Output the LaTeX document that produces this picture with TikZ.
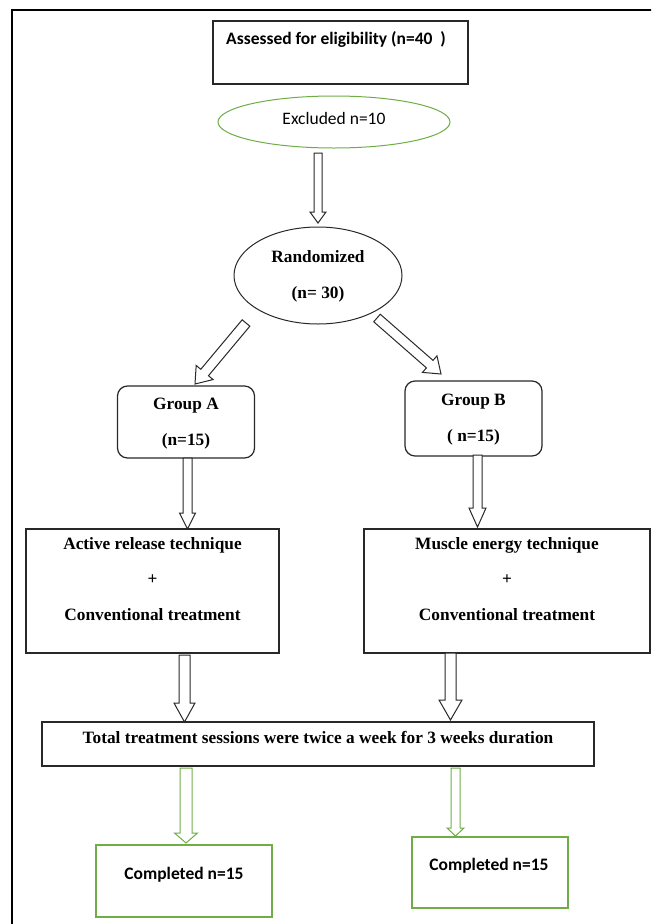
\documentclass[tikz,border=0pt]{standalone}
\usepackage{fontspec}
\setmainfont{Liberation Serif}
\newfontfamily\calibri{Carlito}
\usetikzlibrary{calc,shapes.geometric}
\definecolor{officegreen}{RGB}{112,173,71}
\definecolor{lineblk}{RGB}{40,40,40}
\newcommand\hollowarrow[6][]{%
  \path ($(#3)!#6pt!(#2)$) coordinate (hbase);
  \draw[blockarrow,#1] ($(#2)!#4pt!90:(#3)$) -- ($(hbase)!#4pt!90:(#3)$) -- ($(hbase)!#5pt!90:(#3)$) -- (#3) -- ($(hbase)!#5pt!-90:(#3)$) -- ($(hbase)!#4pt!-90:(#3)$) -- ($(#2)!#4pt!-90:(#3)$) -- cycle;}
\begin{document}
\begin{tikzpicture}[x=1pt,y=1pt,
  box/.style={draw=lineblk, line width=1.2pt, rectangle, inner sep=0pt},
  gbox/.style={draw=officegreen, line width=1.2pt, rectangle, inner sep=0pt},
  rbox/.style={box, rounded corners=10pt},
  oval/.style={ellipse, draw=lineblk, line width=1pt, inner sep=0pt},
  goval/.style={ellipse, draw=officegreen, line width=1pt, inner sep=0pt},
  tnr/.style={font=\fontsize{17.3}{35.5}\selectfont\bfseries, align=center, anchor=base, inner sep=0pt},
  cal/.style={font=\fontsize{17.5}{21}\selectfont\calibri, anchor=base, inner sep=0pt},
  calb/.style={cal, font=\fontsize{17.5}{21}\selectfont\calibri\bfseries},
  blockarrow/.style={draw=lineblk, line width=1pt, line join=miter, fill=white},
  garrow/.style={draw=officegreen}
]
\clip (0,0) rectangle (651,-924);
\fill[white] (0,0) rectangle (651,-924);
% outer frame
\draw[line width=2pt, black] (12,-940) -- (12,-10) -- (670,-10);

% nodes
\node[box, minimum width=255, minimum height=63] (assess) at (340.5,-52.5) {};
\node[calb] (assesst) at (336,-44) {Assessed for eligibility (n=40~~)};

\node[goval, minimum width=232, minimum height=52] (excl) at (334,-122) {};
\node[cal] (exclt) at (334,-124) {Excluded n=10};

\node[oval, minimum width=168, minimum height=97] (rand) at (318,-275.5) {};
\node[tnr] (randt) at (318,-298) {Randomized\\(n= 30)};

\node[rbox, minimum width=137, minimum height=72] (grpA) at (186,-422) {};
\node[tnr] (grpAt) at (186,-445) {Group A\\(n=15)};

\node[rbox, minimum width=137, minimum height=75] (grpB) at (473.5,-418.5) {};
\node[tnr] (grpBt) at (473.5,-441) {Group B\\( n=15)};

\node[box, minimum width=253, minimum height=124] (art) at (152.5,-591) {};
\node[tnr] (artt) at (152.5,-620) {Active release technique\\+\\Conventional treatment};

\node[box, minimum width=286, minimum height=124] (met) at (507,-591) {};
\node[tnr] (mett) at (507,-620) {Muscle energy technique\\+\\Conventional treatment};

\node[box, minimum width=552, minimum height=44] (total) at (318,-744) {};
\node[tnr] (totalt) at (318,-743) {Total treatment sessions were twice a week for 3 weeks duration};

\node[gbox, minimum width=176, minimum height=72] (compA) at (184,-881) {};
\node[calb] (compAt) at (184,-879) {Completed n=15};

\node[gbox, minimum width=156, minimum height=71] (compB) at (490,-872.5) {};
\node[calb] (compBt) at (489,-870) {Completed n=15};

% arrow end points
\coordinate (a1s) at (318,-153);   \coordinate (a1e) at (318,-223);
\coordinate (a2s) at (246,-323);   \coordinate (a2e) at (195,-384);
\coordinate (a3s) at (377,-318);   \coordinate (a3e) at (441,-374);
\coordinate (a4s) at (187.5,-458); \coordinate (a4e) at (187.5,-529);
\coordinate (a5s) at (477.5,-455); \coordinate (a5e) at (477.5,-527);
\coordinate (a6s) at (184.5,-655); \coordinate (a6e) at (184.5,-722);
\coordinate (a7s) at (450.5,-653); \coordinate (a7e) at (450.5,-720);
\coordinate (a8s) at (186,-768);   \coordinate (a8e) at (186,-843);
\coordinate (a9s) at (455.5,-768); \coordinate (a9e) at (455.5,-836);

\hollowarrow{a1s}{a1e}{4}{8}{11}
\hollowarrow{a2s}{a2e}{5}{11}{15}
\hollowarrow{a3s}{a3e}{5}{11}{15}
\hollowarrow{a4s}{a4e}{4.5}{8}{16}
\hollowarrow{a5s}{a5e}{4.5}{8.5}{19}
\hollowarrow{a6s}{a6e}{5.5}{10.5}{19}
\hollowarrow{a7s}{a7e}{5.5}{11.5}{20}
\hollowarrow[garrow]{a8s}{a8e}{6}{11.5}{10}
\hollowarrow[garrow]{a9s}{a9e}{4.5}{8.5}{8}
\end{tikzpicture}
\end{document}
